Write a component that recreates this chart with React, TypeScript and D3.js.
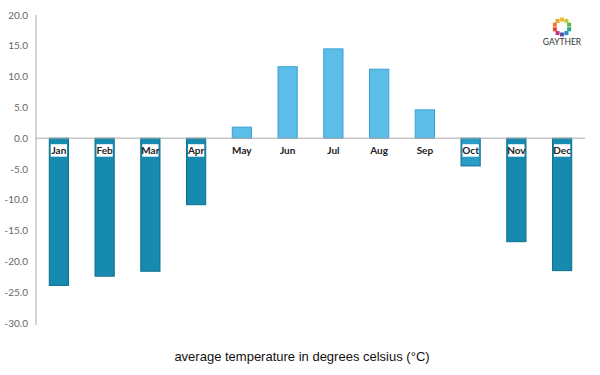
import React from "react";
import * as d3 from "d3";

const months = ["Jan","Feb","Mar","Apr","May","Jun","Jul","Aug","Sep","Oct","Nov","Dec"];
const temps = [-23.9,-22.4,-21.6,-10.8,1.8,11.6,14.5,11.2,4.6,-4.5,-16.8,-21.5];
const yTicks = [20,15,10,5,0,-5,-10,-15,-20,-25,-30];
const title = "average temperature in degrees celsius (°C)";
const logoColors = ["#f7b52c","#b6d334","#5dbb46","#23a98e","#2a8ec7","#5a55a5","#c2338c","#e8413c","#f07d2a","#f3a22e"];

export default function App() {
  const W = 600, H = 375;
  const left = 36, right = 585, top = 15, bottom = 323;
  const x = d3.scaleBand<string>().domain(months).range([left, right]).paddingInner(0.58).paddingOuter(0.29);
  const y = d3.scaleLinear().domain([-30, 20]).range([bottom, top]);
  const y0 = y(0);
  const bw = x.bandwidth();
  const font = "'Century Gothic', 'URW Gothic', Lato, 'DejaVu Sans', sans-serif";
  return (
    <svg width={W} height={H} style={{ position: "absolute", left: 0, top: 0, background: "#fff" }}>
      {yTicks.map(t => (
        <text key={t} x={28} y={y(t)} dy="0.35em" textAnchor="end" fontSize={10} fill="#666" fontFamily={font}>
          {t.toFixed(1)}
        </text>
      ))}
      <line x1={left} x2={left} y1={top} y2={bottom + 2} stroke="#d4d4d4" strokeWidth={2} />
      {months.map((m, i) => {
        const v = temps[i];
        const bx = x(m)!;
        const yy = v >= 0 ? y(v) : y0;
        const h = Math.abs(y(v) - y0);
        const neg = v < 0;
        const fill = neg ? (m === "Oct" ? "#2a9dc6" : "#168aaf") : "#5bbde8";
        const stroke = neg ? "#0f6f8f" : "#3aa0cf";
        return (
          <g key={m}>
            <rect x={bx} y={yy} width={bw} height={h} fill={fill} stroke={stroke} strokeWidth={1} />
            {neg && <rect x={bx + 1.5} y={y0 + 6} width={bw - 3} height={12.5} fill="#fff" />}
            <text x={bx + bw / 2} y={y0 + 12.5} dy="0.35em" textAnchor="middle" fontSize={10} fontWeight="bold" fill="#222" fontFamily={font}>
              {m}
            </text>
          </g>
        );
      })}
      <line x1={left} x2={right} y1={y0} y2={y0} stroke="#aaa" strokeWidth={1} />
      <text x={302} y={361} textAnchor="middle" fontSize={13} fill="#111" fontFamily="Arial, 'Liberation Sans', sans-serif">
        {title}
      </text>
      <g transform="translate(562,27)">
        {logoColors.map((c, i) => {
          const a = (i / logoColors.length) * Math.PI * 2 - Math.PI / 2;
          return <rect key={i} x={Math.cos(a) * 7.5 - 2} y={Math.sin(a) * 7.5 - 2} width={4} height={4} fill={c} />;
        })}
        <text x={0} y={18} textAnchor="middle" fontSize={8.5} fill="#333" fontFamily={font}>GAYTHER</text>
      </g>
    </svg>
  );
}
